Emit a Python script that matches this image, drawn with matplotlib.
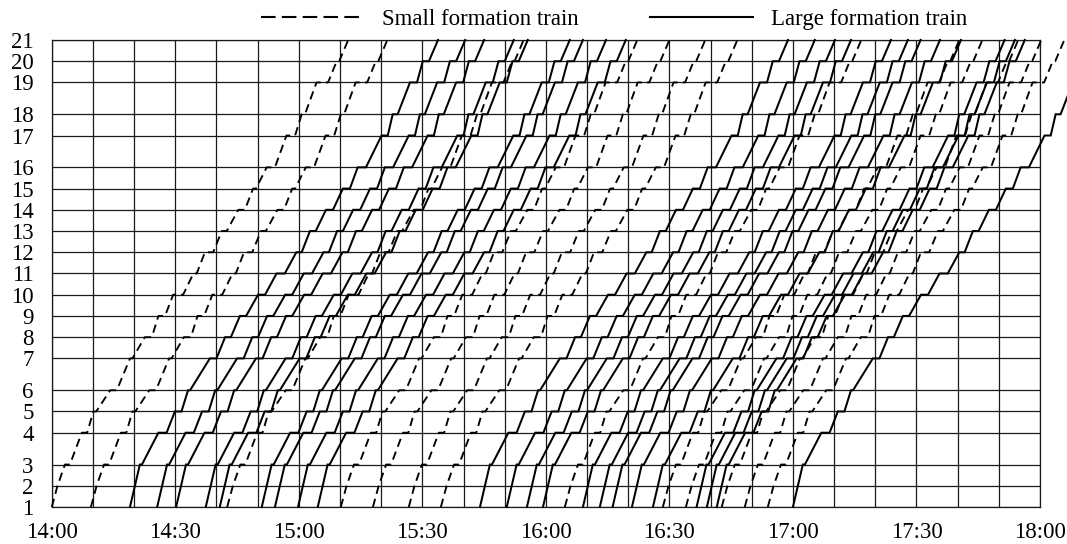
import matplotlib
matplotlib.use('Agg')
import matplotlib.pyplot as plt
from matplotlib.lines import Line2D

plt.rcParams['font.family'] = ['Liberation Serif', 'DejaVu Serif']

# ---- data ----
stations = [str(i) for i in range(1, 22)]
station_pos = [0, 1, 2, 3.5, 4.5, 5.5, 7, 8, 9, 10, 11, 12, 13, 14, 15, 16, 17.5, 18.5, 20, 21, 22]

# running profile: arrival / departure offsets (minutes after leaving station 1)
large_arr = [0, 1.2, 2.4, 6.9, 10.9, 14.1, 19.4, 23.1, 26.7, 31.1, 35.6, 40.4, 43.7, 47.6, 51.7, 55.3, 61.1, 63.8, 68.0, 71.1, 74.8]
large_dep = [0, 1.2, 2.9, 8.9, 12.5, 14.6, 21.0, 24.5, 28.2, 32.8, 37.6, 41.7, 45.1, 49.3, 53.4, 57.3, 62.6, 65.0, 69.7, 72.6, 74.8]
small_arr = [0, 1.4, 3.2, 7.3, 10.1, 14.2, 19.0, 22.6, 25.9, 29.5, 34.4, 37.2, 41.3, 45.3, 48.9, 52.2, 57.0, 60.7, 64.3, 69.2, 72.0]
small_dep = [0, 1.4, 4.4, 8.6, 10.8, 15.8, 19.6, 24.3, 27.5, 31.9, 35.2, 39.2, 42.5, 46.9, 49.6, 54.2, 59.1, 61.5, 67.1, 69.8, 72.0]

# departure times from station 1 (minutes after 14:00)
large_start = [19.0, 25.6, 30.2, 37.4, 40.8, 51.0, 54.2, 59.8, 64.6, 104.0, 110.5, 115.4,
               119.3, 129.0, 133.1, 136.2, 140.9, 146.0, 156.6, 159.1, 161.5, 180.0]
small_start = [0, 9.5, 42.6, 70.2, 78.0, 86.7, 94.5, 124.6, 148.4, 154.0, 162.7, 168.3, 173.9]

time_ticks = [0, 30, 60, 90, 120, 150, 180, 210, 240]
time_labels = ['14:00', '14:30', '15:00', '15:30', '16:00', '16:30', '17:00', '17:30', '18:00']
legend_labels = ['Small formation train', 'Large formation train']

# ---- figure ----
fig = plt.figure(figsize=(10.67, 5.44), dpi=100)
ax = fig.add_axes([0.0485, 0.068, 0.9262, 0.8585])
ax.set_xlim(0, 240)
ax.set_ylim(0, 22)

grid_kw = dict(color='#1a1a1a', lw=0.9, zorder=1)
for p in station_pos:
    ax.axhline(p, **grid_kw)
for t in range(0, 241, 10):
    ax.axvline(t, **grid_kw)


def path(start, arr, dep):
    xs, ys = [], []
    for a, d, p in zip(arr, dep, station_pos):
        xs += [start + a, start + d]
        ys += [p, p]
    return xs, ys


for s in large_start:
    xs, ys = path(s, large_arr, large_dep)
    ax.plot(xs, ys, color='black', lw=1.45, solid_joinstyle='miter', clip_on=False, zorder=3)
for s in small_start:
    xs, ys = path(s, small_arr, small_dep)
    ax.plot(xs, ys, color='black', lw=1.35, linestyle=(0, (4.5, 2.8)), clip_on=False, zorder=3)

ax.set_xticks(time_ticks)
ax.set_xticklabels(time_labels)
ax.set_yticks(station_pos)
ax.set_yticklabels(stations)
ax.tick_params(axis='both', length=0, labelsize=16.5, colors='black')
ax.tick_params(axis='x', pad=11)
ax.tick_params(axis='y', pad=13)
for sp in ax.spines.values():
    sp.set_linewidth(0.9)
    sp.set_color('#1a1a1a')

handles = [Line2D([], [], color='black', lw=1.5, linestyle=(0, (7, 3))),
           Line2D([], [], color='black', lw=1.5)]
fig.legend(handles, legend_labels, loc='center', bbox_to_anchor=(614 / 1067, 1 - 19 / 544),
           ncol=2, frameon=False, fontsize=16.5, handlelength=4.5, handletextpad=0.8,
           columnspacing=3.1, borderaxespad=0, borderpad=0)

fig.savefig('out.png', dpi=100)
